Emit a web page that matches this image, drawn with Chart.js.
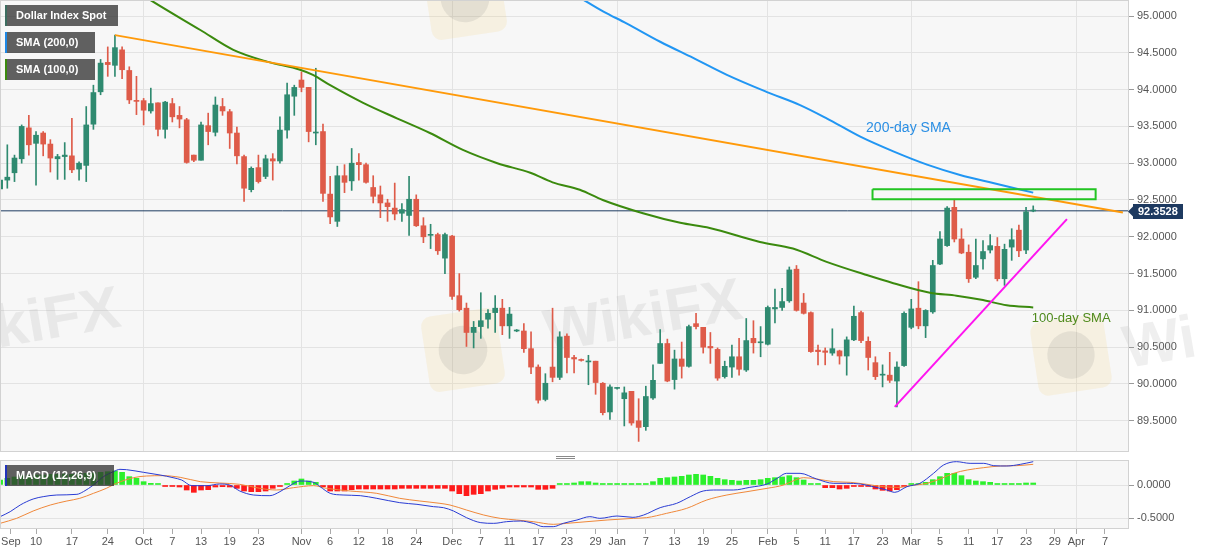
<!DOCTYPE html>
<html><head><meta charset="utf-8">
<script src="https://cdn.jsdelivr.net/npm/chart.js@4.4.1/dist/chart.umd.min.js"></script>
<style>
html,body{margin:0;padding:0;background:#fff;width:1207px;height:555px;overflow:hidden;}
#c1{position:absolute;left:0;top:0;}
#c2{position:absolute;left:0;top:455px;}
</style></head><body>
<canvas id="c1" width="1207" height="453"></canvas>
<canvas id="c2" width="1207" height="100"></canvas>
<script>
// ---- data (trading-day index; first visible candle = index 2, Sep 3 2020) ----
const firstDay = 2;
const opens = [92.65,92.77,92.87,93.06,93.48,93.27,93.41,93.26,93.06,93.09,
93.10,92.92,92.97,93.53,93.97,94.37,94.33,94.54,94.26,93.85,
93.85,93.71,93.82,93.46,93.81,93.65,93.59,93.11,93.04,93.51,
93.42,93.77,93.70,93.41,93.09,92.64,92.94,92.82,93.06,93.03,
93.45,93.91,94.13,94.03,93.41,93.43,92.58,92.21,92.83,92.76,
93.01,92.98,92.67,92.57,92.46,92.39,92.32,92.29,92.51,92.15,
92.02,92.03,91.71,92.01,91.20,91.03,90.70,90.78,90.88,90.97,
91.03,90.79,90.72,90.72,90.48,90.23,89.79,90.23,90.09,90.65,
90.36,90.33,90.30,90.31,90.01,89.62,89.94,89.80,89.90,89.50,
89.42,89.81,90.28,90.55,90.06,90.34,90.24,90.82,90.77,90.51,
90.47,90.10,90.23,90.37,90.19,90.62,90.56,90.54,91.02,91.04,
91.13,91.56,91.10,90.97,90.46,90.45,90.42,90.45,90.38,90.60,
90.97,90.58,90.29,90.12,90.12,90.04,90.25,90.77,91.03,90.79,
90.98,91.63,91.88,92.40,91.97,91.79,91.45,91.70,91.82,91.87,
91.43,91.86,92.09,91.82,92.35];
const highs = [93.07,93.25,93.11,93.52,93.65,93.43,93.43,93.32,93.12,93.28,
93.61,93.02,93.77,94.06,94.41,94.58,94.74,94.58,94.31,94.18,
93.88,94.02,93.82,93.84,93.88,93.77,93.61,93.11,93.56,93.68,
93.90,93.88,93.73,93.49,93.11,92.95,93.11,93.11,93.13,93.63,
94.09,94.06,94.24,94.03,94.29,93.53,92.82,92.96,92.98,93.20,
93.13,93.00,92.83,92.69,92.51,92.73,92.45,92.82,92.57,92.26,
92.17,92.05,92.05,92.02,91.50,91.10,90.85,91.24,91.01,91.20,
91.15,91.04,90.74,90.82,90.71,90.26,90.14,91.03,90.71,90.68,
90.39,90.34,90.39,90.31,90.02,89.99,89.95,89.96,89.90,89.80,
89.97,90.26,90.74,90.61,90.46,90.57,90.80,90.96,90.77,90.70,
90.49,90.31,90.53,90.62,90.89,90.86,90.78,91.06,91.29,91.30,
91.59,91.61,91.23,90.98,90.53,90.49,90.75,90.46,90.64,91.06,
90.99,90.64,90.37,90.26,90.43,90.30,90.98,91.15,91.39,91.01,
91.68,92.07,92.41,92.51,92.11,91.89,91.97,91.95,92.03,91.99,
91.90,92.11,92.16,92.40,92.42];
const lows = [92.60,92.66,92.75,93.00,93.11,92.70,93.10,92.88,92.78,92.78,
92.87,92.77,92.75,93.46,93.93,94.18,94.18,94.15,93.81,93.66,
93.52,93.68,93.37,93.34,93.56,93.48,93.00,93.02,93.04,93.25,
93.37,93.65,93.20,92.99,92.48,92.61,92.73,92.79,92.77,93.00,
93.34,93.65,93.97,93.29,93.25,92.48,92.18,92.14,92.60,92.63,
92.77,92.73,92.46,92.26,92.21,92.23,92.21,92.02,92.14,91.92,
91.84,91.76,91.50,91.15,90.99,90.51,90.49,90.62,90.76,90.70,
90.67,90.62,90.71,90.43,90.14,89.74,89.77,90.03,90.06,90.15,
90.15,90.31,89.99,89.86,89.58,89.52,89.93,89.43,89.44,89.22,
89.37,89.79,90.28,90.03,89.93,90.08,90.23,90.75,90.42,90.28,
90.05,90.08,90.09,90.12,90.17,90.42,90.37,90.53,90.83,91.00,
91.11,90.99,90.95,90.43,90.26,90.26,90.39,90.27,90.12,90.59,
90.56,90.19,90.06,89.96,90.02,89.69,90.24,90.75,90.75,90.63,
90.96,91.62,91.87,91.93,91.77,91.38,91.43,91.56,91.78,91.40,
91.34,91.68,91.73,91.77,92.34];
const closes = [92.77,92.81,93.07,93.50,93.25,93.38,93.26,93.07,93.09,93.11,
92.91,93.00,93.52,93.96,94.36,94.34,94.57,94.27,93.86,93.84,
93.72,93.81,93.46,93.83,93.63,93.60,93.01,93.04,93.52,93.43,
93.79,93.71,93.41,93.10,92.66,92.93,92.75,93.06,93.03,93.45,
93.93,94.03,94.03,93.43,93.42,92.59,92.27,92.83,92.74,93.00,
92.98,92.74,92.55,92.46,92.41,92.31,92.37,92.51,92.15,92.00,
92.03,91.81,92.03,91.19,91.01,90.70,90.77,90.86,90.96,91.03,
90.79,90.95,90.73,90.48,90.23,89.78,90.01,90.09,90.64,90.36,
90.34,90.32,90.31,90.02,89.61,89.96,89.94,89.88,89.47,89.41,
89.83,90.05,90.55,90.04,90.34,90.24,90.78,90.78,90.50,90.49,
90.08,90.24,90.37,90.20,90.59,90.56,90.57,91.04,91.04,91.12,
91.55,91.00,90.96,90.44,90.44,90.43,90.48,90.38,90.60,90.92,
90.59,90.36,90.10,90.13,90.05,90.23,90.96,91.02,90.79,91.00,
91.61,91.97,92.39,91.97,91.78,91.43,91.61,91.80,91.88,91.43,
91.83,91.96,91.81,92.34,92.3528];
const lastPrice = 92.3528;

const sma100Days = [14,18.5,22.9,29.9,34.5,39.2,43.8,45.6,48,52.6,57.3,61.9,66.5,71.3,75.9,79,82.8,86,91.6,96.8,100.9,107.9,112.5,117.2,122.8,126.5,131.6,135.3,139,142.3,146];
const sma100Vals = [95.75,95.5,95.22,94.81,94.54,94.38,94.27,94.20,94.06,93.82,93.61,93.41,93.18,93.00,92.87,92.74,92.64,92.50,92.32,92.19,92.12,91.93,91.84,91.66,91.48,91.37,91.24,91.20,91.14,91.07,91.04];
const sma200Days = [80,83.3,86.1,89.3,94.0,98.6,103.3,108.8,113.5,117.2,121.9,126.5,131.2,135.8,140.4,146];
const sma200Vals = [95.40,95.22,95.06,94.90,94.65,94.43,94.20,93.97,93.79,93.61,93.36,93.16,92.98,92.84,92.73,92.60];
const trendDays = [18,158.5];
const trendVals = [94.74,92.33];
const supportDays = [126.7,150.7];
const supportVals = [89.69,92.24];
const zoneDays = [123.6,154.7];
const zoneVals = [92.51,92.645];

const histVals = [0.075,0.10,0.12,0.14,0.14,0.15,0.15,0.16,0.16,0.165,
0.16,0.17,0.175,0.18,0.19,0.20,0.21,0.19,0.125,0.10,
0.05,0.025,0.005,-0.01,-0.02,-0.03,-0.075,-0.11,-0.075,-0.07,
-0.03,-0.025,-0.03,-0.05,-0.09,-0.10,-0.10,-0.09,-0.05,-0.02,
0.02,0.06,0.09,0.06,0.04,-0.025,-0.09,-0.09,-0.09,-0.07,
-0.06,-0.06,-0.06,-0.06,-0.06,-0.06,-0.05,-0.05,-0.05,-0.05,
-0.05,-0.05,-0.05,-0.09,-0.13,-0.16,-0.14,-0.13,-0.09,-0.065,
-0.05,-0.03,-0.03,-0.03,-0.03,-0.065,-0.065,-0.05,0.003,0.01,
0.03,0.05,0.05,0.03,0.01,0.01,0.01,0.01,0.01,0.002,
0.01,0.05,0.10,0.11,0.12,0.13,0.15,0.16,0.15,0.13,
0.10,0.08,0.07,0.06,0.07,0.07,0.08,0.10,0.11,0.12,
0.14,0.11,0.075,0.01,0.002,-0.04,-0.04,-0.06,-0.05,-0.02,
-0.02,-0.02,-0.06,-0.08,-0.09,-0.07,-0.01,0.02,0.02,0.04,
0.08,0.125,0.175,0.175,0.14,0.08,0.06,0.05,0.04,0.005,
0.005,0.005,0.005,0.03,0.03];
const macdDays = [2,3.4,4.8,6.6,8,9.9,12.7,13.6,15,16.4,17.8,18.7,19.6,22,24.3,26.1,27.3,28.7,30.8,32.6,34,35.4,37.3,39.6,41,42.4,43.8,45.7,46.6,48,49.8,52.2,54.5,57.7,60.1,62.4,63.8,65.2,67,69,70.8,72.6,74.5,76.3,77.7,79.1,80.5,82.4,84.2,85.6,88,90.2,91.7,94,96.3,98.2,100,101.9,104.2,106.5,108.9,110.3,111.6,113.5,115.8,118.2,120,121.9,123.7,125.6,126.7,128.4,130.2,132.1,133.5,135.3,137.2,139.1,140.5,142.3,144.2,146];
const macdVals = [-0.475,-0.40,-0.30,-0.21,-0.175,-0.15,-0.14,-0.10,0.0,0.125,0.20,0.235,0.23,0.19,0.15,0.11,0.075,-0.01,-0.01,0.015,0.0,-0.09,-0.15,-0.16,-0.10,-0.01,0.06,0.04,-0.025,-0.125,-0.15,-0.16,-0.20,-0.265,-0.29,-0.325,-0.34,-0.39,-0.49,-0.565,-0.575,-0.55,-0.54,-0.575,-0.625,-0.625,-0.575,-0.525,-0.475,-0.50,-0.465,-0.485,-0.45,-0.34,-0.275,-0.175,-0.09,-0.075,-0.075,-0.035,0.015,0.10,0.175,0.175,0.09,0.025,0.025,0.015,-0.025,-0.075,-0.11,-0.025,0.025,0.175,0.30,0.35,0.325,0.325,0.29,0.285,0.31,0.35];
const signalDays = [2,4.3,6.6,9,11.3,13.1,15,16.8,18.2,20.6,22.4,24.7,27.1,29.9,32.6,35.4,38.2,40.5,42.9,45.7,47.5,50.8,54.5,57.7,60.5,63.3,64.7,67,69.4,71.7,74,76.3,79.1,81,83.8,86.6,90.3,92.1,94.9,97.7,100.5,103.3,106.1,108.9,111.2,112.5,114,115.8,118.2,120.5,122.8,125.1,127.4,128.8,131.2,133,134.9,136.8,139.1,141.4,143.7,146];
const signalVals = [-0.575,-0.50,-0.39,-0.30,-0.24,-0.20,-0.125,-0.05,0.025,0.11,0.135,0.14,0.115,0.05,0.03,0.01,-0.05,-0.075,-0.04,-0.01,-0.05,-0.09,-0.125,-0.20,-0.24,-0.275,-0.30,-0.375,-0.45,-0.50,-0.525,-0.55,-0.59,-0.575,-0.55,-0.525,-0.50,-0.49,-0.425,-0.35,-0.225,-0.15,-0.10,-0.05,0.0,0.06,0.11,0.09,0.05,0.04,0.01,-0.025,-0.035,-0.01,0.025,0.09,0.175,0.225,0.26,0.285,0.29,0.31];

const tickDays = [3.5,7,12,17,22,26,30,34,38,44,48,52,56,60,65,69,73,77,81,85,88,92,96,100,104,109,113,117,121,125,129,133,137,141,145,149,152,156];
const tickLabels = ['Sep','10','17','24','Oct','7','13','19','23','Nov','6','12','18','24','Dec','7','11','17','23','29','Jan','7','13','19','25','Feb','5','11','17','23','Mar','5','11','17','23','29','Apr','7'];
const monthDays = [22,44,65,88,109,129,152];
const priceTicks = [89.5,90,90.5,91,91.5,92,92.5,93,93.5,94,94.5,95];
const macdTicks = [-0.5,0];

// ---- setup ----
const FONT = '"Liberation Sans", Arial, sans-serif';
Chart.defaults.font.family = FONT;
const X_MIN = 2.119, X_MAX = 159.35;
const GREEN = '#2f8a70', RED = '#de5b49';
const days = opens.map((_, i) => firstDay + i);
const isUp = i => closes[i] >= opens[i];
const candleColor = c => (c.dataIndex == null || isUp(c.dataIndex)) ? GREEN : RED;
const pts = (d, v) => d.map((x, i) => ({x, y: v[i]}));
const gridX = c => (c.tick && monthDays.includes(c.tick.value)) ? '#e3e3e3' : 'rgba(0,0,0,0)';

const areaPlugin = {
  id: 'areaBg',
  beforeDraw(chart) {
    const {ctx, chartArea: a} = chart;
    ctx.save(); ctx.fillStyle = '#f7f7f7';
    ctx.fillRect(a.left, a.top, a.right - a.left, a.bottom - a.top); ctx.restore();
  },
  afterDraw(chart) {
    const {ctx, chartArea: a} = chart;
    ctx.save(); ctx.strokeStyle = '#d2d2d2'; ctx.lineWidth = 1;
    ctx.strokeRect(Math.round(a.left) - 0.5, Math.round(a.top) + 0.5, Math.round(a.right - a.left), Math.round(a.bottom - a.top) - 1);
    ctx.restore();
  }
};

function labelBox(ctx, x, y, w, h, stripe, text) {
  ctx.fillStyle = 'rgba(48,48,48,0.76)';
  ctx.fillRect(x, y, w, h);
  ctx.fillStyle = stripe;
  ctx.fillRect(x, y, 2, h);
  ctx.fillStyle = '#fff';
  ctx.font = 'bold 11px ' + FONT;
  ctx.textBaseline = 'middle';
  ctx.fillText(text, x + 11, y + h / 2 + 0.5);
}

const watermarkPlugin = {
  id: 'wm',
  beforeDatasetsDraw(chart) {
    const ctx = chart.ctx;
    ctx.save();
    const logo = (cx, cy, s) => {
      ctx.save(); ctx.translate(cx, cy); ctx.rotate(-0.15);
      ctx.fillStyle = 'rgba(240,205,110,0.16)';
      ctx.beginPath();
      if (ctx.roundRect) ctx.roundRect(-s/2, -s/2, s, s, 10); else ctx.rect(-s/2, -s/2, s, s);
      ctx.fill();
      ctx.fillStyle = 'rgba(120,120,120,0.14)';
      ctx.beginPath(); ctx.arc(0, 0, s * 0.32, 0, Math.PI * 2); ctx.fill();
      ctx.restore();
    };
    logo(463, 350, 76); logo(1071, 355, 74); logo(465, -2, 76);
    ctx.fillStyle = 'rgba(160,160,160,0.17)';
    ctx.font = 'bold 60px ' + FONT;
    ctx.textBaseline = 'alphabetic';
    const wt = (t, x, y) => { ctx.save(); ctx.translate(x, y); ctx.rotate(-0.17); ctx.fillText(t, 0, 0); ctx.restore(); };
    wt('WikiFX', -74, 360); wt('WikiFX', 548, 352); wt('Wi', 1127, 368);
    ctx.restore();
  }
};

const overlayPlugin = {
  id: 'overlay',
  afterDraw(chart) {
    const {ctx, scales: {x, y}} = chart;
    ctx.save();
    labelBox(ctx, 5, 5, 113, 21, '#3c6d60', 'Dollar Index Spot');
    labelBox(ctx, 5, 32, 90, 21, '#1e88e5', 'SMA (200,0)');
    labelBox(ctx, 5, 59, 90, 21, '#3b8a0e', 'SMA (100,0)');
    // line annotations
    ctx.textBaseline = 'alphabetic';
    ctx.font = '14px ' + FONT; ctx.fillStyle = '#2b8fe4';
    ctx.fillText('200-day SMA', x.getPixelForValue(122.7), y.getPixelForValue(93.43));
    ctx.font = '13px ' + FONT; ctx.fillStyle = '#4e8a1c';
    ctx.fillText('100-day SMA', x.getPixelForValue(145.8), y.getPixelForValue(90.836));
    // last price tag
    const py = Math.round(y.getPixelForValue(lastPrice)) + 0.5;
    const bx = chart.chartArea.right + 4;
    ctx.fillStyle = '#1e3a60';
    ctx.beginPath(); ctx.moveTo(bx - 5, py); ctx.lineTo(bx, py - 5); ctx.lineTo(bx, py + 5); ctx.closePath(); ctx.fill();
    ctx.fillRect(bx, py - 7.5, 50, 15);
    ctx.fillStyle = '#fff'; ctx.font = 'bold 11px ' + FONT; ctx.textBaseline = 'middle';
    ctx.fillText(lastPrice.toFixed(4), bx + 5, py + 0.5);
    ctx.restore();
  }
};

new Chart(document.getElementById('c1'), {
  type: 'bar',
  data: { datasets: [
    { type: 'line', data: [{x: 0, y: lastPrice}, {x: 170, y: lastPrice}], borderColor: '#1d3b61', borderWidth: 1, pointRadius: 0, order: 30 },
    { data: days.map((d, i) => ({x: d, y: [lows[i], highs[i]]})), backgroundColor: candleColor, barThickness: 1, grouped: false, order: 20 },
    { data: days.map((d, i) => ({x: d, y: [opens[i], closes[i]]})), backgroundColor: candleColor, barThickness: 5, minBarLength: 1, grouped: false, order: 19 },
    { type: 'line', data: pts(sma100Days, sma100Vals), borderColor: '#3b8a0e', borderWidth: 2, pointRadius: 0, cubicInterpolationMode: 'monotone', order: 6 },
    { type: 'line', data: pts(sma200Days, sma200Vals), borderColor: '#2196f3', borderWidth: 2, pointRadius: 0, cubicInterpolationMode: 'monotone', order: 5 },
    { type: 'line', data: pts(trendDays, trendVals), borderColor: '#ff9a0a', borderWidth: 2, pointRadius: 0, order: 4 },
    { type: 'line', data: pts(supportDays, supportVals), borderColor: '#ff14f0', borderWidth: 2, pointRadius: 0, order: 3 },
    { type: 'line', data: [
        {x: zoneDays[0], y: zoneVals[1]}, {x: zoneDays[1], y: zoneVals[1]},
        {x: zoneDays[1], y: zoneVals[0]}, {x: zoneDays[0], y: zoneVals[0]},
        {x: zoneDays[0], y: zoneVals[1]}],
      borderColor: '#22c422', borderWidth: 2, pointRadius: 0, tension: 0, order: 2 }
  ]},
  options: {
    responsive: false, animation: false, events: [],
    layout: {padding: {left: 1, right: 0, top: 0, bottom: 1}},
    plugins: {legend: {display: false}, tooltip: {enabled: false}},
    scales: {
      x: { type: 'linear', min: X_MIN, max: X_MAX, offset: false,
        grid: {offset: false, drawTicks: false, color: gridX},
        border: {display: false}, ticks: {display: false},
        afterBuildTicks: s => { s.ticks = tickDays.map(v => ({value: v})); },
        afterFit: s => { s.height = 0; s.paddingLeft = 0; s.paddingRight = 0; } },
      y: { type: 'linear', position: 'right', min: 89.076, max: 95.2174, beginAtZero: false,
        grid: {color: '#e3e3e3', tickLength: 5, tickColor: '#9a9a9a'},
        border: {display: false},
        ticks: {color: '#555', font: {size: 11}, padding: 3, callback: v => Number(v).toFixed(4)},
        afterBuildTicks: s => { s.ticks = priceTicks.map(v => ({value: v})); },
        afterFit: s => { s.width = 78; s.paddingTop = 0; s.paddingBottom = 0; } }
    }
  },
  plugins: [areaPlugin, watermarkPlugin, overlayPlugin]
});

const macdOverlay = {
  id: 'macdOverlay',
  afterDraw(chart) {
    const ctx = chart.ctx;
    ctx.save();
    labelBox(ctx, 5, 10, 109, 21, '#2233bb', 'MACD (12,26,9)');
    ctx.strokeStyle = '#8a8a8a'; ctx.lineWidth = 1;
    ctx.beginPath(); ctx.moveTo(556, 1.5); ctx.lineTo(575, 1.5); ctx.moveTo(556, 3.5); ctx.lineTo(575, 3.5); ctx.stroke();
    ctx.restore();
  }
};

new Chart(document.getElementById('c2'), {
  type: 'bar',
  data: { datasets: [
    { data: days.map((d, i) => ({x: d, y: histVals[i]})),
      backgroundColor: c => (c.raw && c.raw.y < 0) ? '#ff1a1a' : '#2cf02c',
      barThickness: 5, minBarLength: 1.5, grouped: false, order: 5 },
    { type: 'line', data: pts(signalDays, signalVals), borderColor: '#f0883a', borderWidth: 1, pointRadius: 0, cubicInterpolationMode: 'monotone', order: 2 },
    { type: 'line', data: pts(macdDays, macdVals), borderColor: '#2a3cd4', borderWidth: 1, pointRadius: 0, cubicInterpolationMode: 'monotone', order: 1 }
  ]},
  options: {
    responsive: false, animation: false, events: [],
    layout: {padding: {left: 1, right: 0, top: 5, bottom: 0}},
    plugins: {legend: {display: false}, tooltip: {enabled: false}},
    scales: {
      x: { type: 'linear', min: X_MIN, max: X_MAX, offset: false,
        grid: {offset: false, drawTicks: true, tickLength: 5, tickColor: '#aaa', color: gridX},
        border: {display: false},
        ticks: {color: '#555', font: {size: 11}, padding: 1, maxRotation: 0, autoSkip: false,
          callback: (v, i) => tickLabels[i]},
        afterBuildTicks: s => { s.ticks = tickDays.map(v => ({value: v})); },
        afterFit: s => { s.height = 26; s.paddingLeft = 0; s.paddingRight = 0; } },
      y: { type: 'linear', position: 'right', min: -0.66, max: 0.375, beginAtZero: false,
        grid: {color: '#e3e3e3', tickLength: 5, tickColor: '#9a9a9a'},
        border: {display: false},
        ticks: {color: '#555', font: {size: 11}, padding: 3, callback: v => Number(v).toFixed(4)},
        afterBuildTicks: s => { s.ticks = macdTicks.map(v => ({value: v})); },
        afterFit: s => { s.width = 78; s.paddingTop = 0; s.paddingBottom = 0; } }
    }
  },
  plugins: [areaPlugin, macdOverlay]
});
</script></body></html>
